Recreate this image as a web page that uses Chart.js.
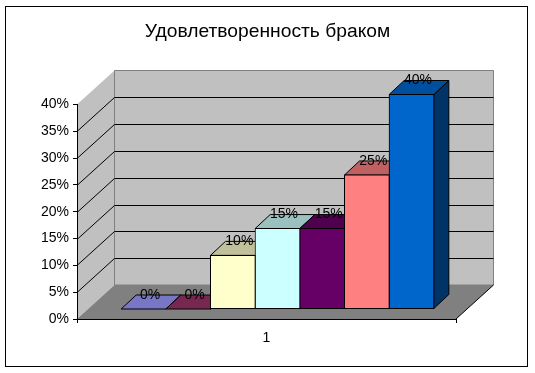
<!DOCTYPE html>
<html>
<head>
<meta charset="utf-8">
<style>
html, body { margin: 0; padding: 0; background: #fff; }
canvas { display: block; }
</style>
<script src="https://cdn.jsdelivr.net/npm/chart.js@4"></script>
</head>
<body>
<canvas id="mainChart" width="535" height="373"></canvas>
<script>
const categories = ['1'];
const seriesValues = [0, 0, 10, 15, 15, 25, 40];
const tickStep = 5;
const axisMax = 40;
const frontColors = ['#9999FF', '#993366', '#FFFFCC', '#CCFFFF', '#660066', '#FF8080', '#0066CC'];
const topColors = ['#7777C6', '#772850', '#C0C09C', '#9CC0C0', '#4F004F', '#C06060', '#004F9E'];
const sideColors = ['#4D4D80', '#4D1A33', '#808066', '#668080', '#330033', '#804040', '#003366'];

const font = 'Arial, "Liberation Sans", sans-serif';
// depth of the whole box and of the bars, and where the bars sit inside the box
const boxDx = 37.5, boxDy = -34;
const barDx = 15, barDy = -14;
const planeDx = 11, planeDy = -10;

function poly(ctx, pts, fill, stroke) {
    ctx.beginPath();
    pts.forEach((p, i) => i ? ctx.lineTo(p[0], p[1]) : ctx.moveTo(p[0], p[1]));
    ctx.closePath();
    if (fill) { ctx.fillStyle = fill; ctx.fill(); }
    if (stroke) { ctx.strokeStyle = stroke; ctx.lineWidth = 1; ctx.stroke(); }
}

const box3d = {
    id: 'box3d',
    beforeDraw(chart) {
        const ctx = chart.ctx, a = chart.chartArea, y = chart.scales.y;
        const l = a.left, r = a.right, t = a.top, b = a.bottom;
        ctx.save();
        ctx.fillStyle = '#fff';
        ctx.fillRect(0, 0, chart.width, chart.height);
        ctx.strokeStyle = '#000';
        ctx.lineWidth = 1;
        ctx.strokeRect(5.5, 6.5, 522, 360);
        // walls
        poly(ctx, [[l, t], [l + boxDx, t + boxDy], [l + boxDx, b + boxDy], [l, b]], '#C0C0C0');
        poly(ctx, [[l + boxDx, t + boxDy], [r + boxDx, t + boxDy], [r + boxDx, b + boxDy], [l + boxDx, b + boxDy]], '#C0C0C0', '#808080');
        // floor
        poly(ctx, [[l, b], [r, b], [r + boxDx, b + boxDy], [l + boxDx, b + boxDy]], '#808080');
        // gridlines on both walls, from the value scale
        ctx.strokeStyle = '#000';
        ctx.beginPath();
        for (let v = tickStep; v < axisMax; v += tickStep) {
            const py = Math.round(y.getPixelForValue(v)) + 0.5;
            ctx.moveTo(l, py);
            ctx.lineTo(l + boxDx, py + boxDy);
            ctx.lineTo(r + boxDx, py + boxDy);
        }
        ctx.moveTo(r, b);
        ctx.lineTo(r + boxDx, b + boxDy);
        ctx.stroke();
        ctx.restore();
    },
    beforeDatasetsDraw(chart) {
        const ctx = chart.ctx;
        ctx.save();
        ctx.translate(planeDx, planeDy);
        // tops and sides go first, left to right, the front faces then cover them
        chart.data.datasets.forEach((ds, i) => {
            const bar = chart.getDatasetMeta(i).data[0];
            const x0 = bar.x - bar.width / 2, x1 = bar.x + bar.width / 2;
            const top = bar.y, base = bar.base;
            poly(ctx, [[x1, top], [x1 + barDx, top + barDy], [x1 + barDx, base + barDy], [x1, base]], sideColors[i], '#000');
            poly(ctx, [[x0, top], [x1, top], [x1 + barDx, top + barDy], [x0 + barDx, top + barDy]], topColors[i], '#000');
        });
    },
    afterDatasetsDraw(chart) {
        const ctx = chart.ctx;
        ctx.restore();
        // value labels sit on the back edge of each bar top
        ctx.save();
        ctx.font = '14px ' + font;
        ctx.fillStyle = '#000';
        ctx.textAlign = 'center';
        ctx.textBaseline = 'middle';
        chart.data.datasets.forEach((ds, i) => {
            const bar = chart.getDatasetMeta(i).data[0];
            ctx.fillText(ds.data[0] + '%', bar.x + planeDx + barDx / 2 - 1, bar.y + planeDy + barDy);
        });
        ctx.restore();
    }
};

new Chart(document.getElementById('mainChart'), {
    type: 'bar',
    data: {
        labels: categories,
        datasets: seriesValues.map((v, i) => ({
            label: 'Ряд' + (i + 1),
            data: [v],
            backgroundColor: frontColors[i],
            borderColor: '#000',
            borderWidth: 1,
            borderSkipped: false,
            inflateAmount: 0.5,
            clip: false
        }))
    },
    options: {
        responsive: false,
        animation: false,
        datasets: { bar: { categoryPercentage: 0.825, barPercentage: 1 } },
        plugins: {
            legend: { display: false },
            tooltip: { enabled: false },
            title: {
                display: true,
                text: 'Удовлетворенность браком',
                color: '#000',
                font: { family: font, size: 19.25, weight: 'normal' },
                padding: { top: 20, bottom: 61.4 }
            }
        },
        scales: {
            x: {
                afterFit(scale) { scale.height = 54; },
                grid: { drawOnChartArea: false, tickLength: 4, color: '#000' },
                border: { color: '#000' },
                ticks: { color: '#000', font: { family: font, size: 14 }, padding: 7, maxRotation: 0 }
            },
            y: {
                min: 0,
                max: axisMax,
                afterFit(scale) { scale.width = 77; },
                grid: { drawOnChartArea: false, tickLength: 4, color: '#000' },
                border: { color: '#000' },
                ticks: {
                    stepSize: tickStep,
                    color: '#000',
                    padding: 4,
                    font: { family: font, size: 14 },
                    callback: v => v + '%'
                }
            },
            // empty axis, only keeps the space right of the box so the title stays centred on the page
            rightGap: {
                position: 'right',
                afterFit(scale) { scale.width = 79; },
                grid: { display: false },
                border: { display: false },
                ticks: { display: false }
            }
        }
    },
    plugins: [box3d]
});
</script>
</body>
</html>
